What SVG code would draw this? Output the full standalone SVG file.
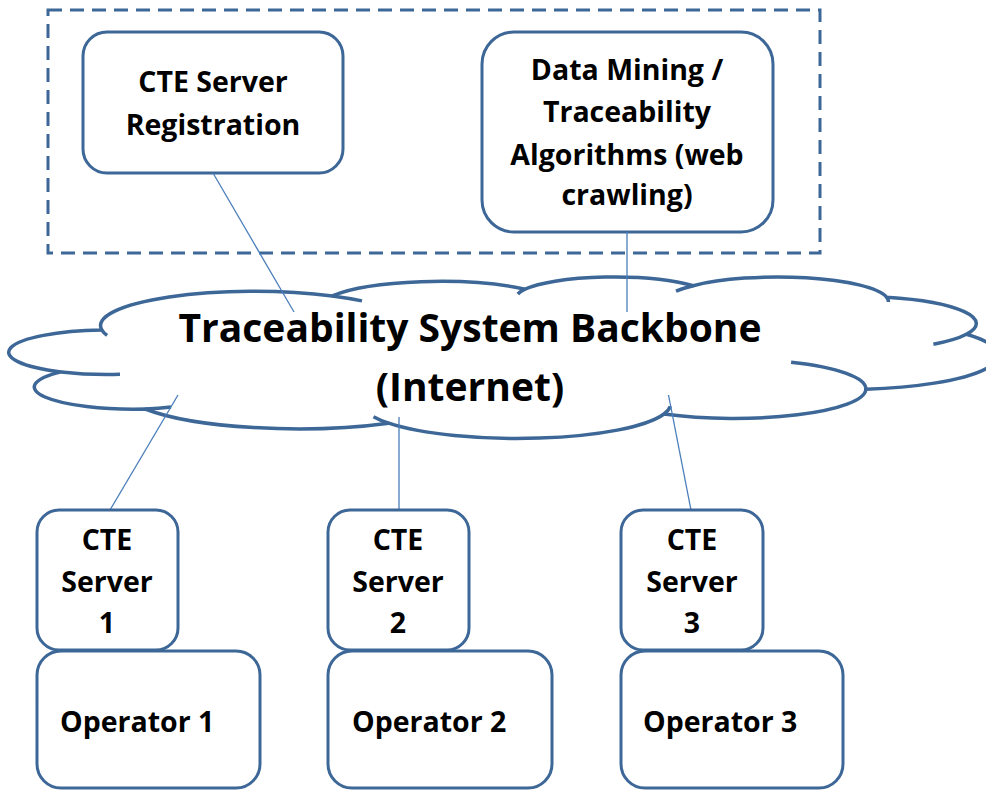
<svg xmlns="http://www.w3.org/2000/svg" width="986" height="790" viewBox="0 0 986 790">
<style>
.box{fill:#ffffff;stroke:#3D6797;stroke-width:3}
.cloud{fill:#ffffff;stroke:#3D6797;stroke-width:3.5;stroke-linejoin:round}
.tail{fill:none;stroke:#3D6797;stroke-width:3.5;stroke-linecap:butt}
.dash{fill:none;stroke:#3D6797;stroke-width:3;stroke-dasharray:14 8}
.conn{fill:none;stroke:#4A7EBB;stroke-width:1.3}
text{font-family:"Open Sans",Lato,"Liberation Sans",sans-serif;font-weight:bold;fill:#000000}
.t28{font-size:28.5px;text-anchor:middle}
.op{font-size:28.5px;text-anchor:start}
.title{font-size:39px;text-anchor:middle}
</style>
<rect width="986" height="790" fill="#ffffff"/>
<g id="group-box">
<rect class="dash" x="48" y="10" width="772" height="243"/>
</g>
<g id="registration">
<rect class="box" x="83" y="32" width="260" height="141" rx="24"/>
<text class="t28" x="213" y="92">CTE Server</text>
<text class="t28" x="213" y="135">Registration</text>
</g>
<g id="datamining">
<rect class="box" x="482" y="32" width="291" height="200" rx="32"/>
<text class="t28" x="627" y="80">Data Mining /</text>
<text class="t28" x="627" y="122">Traceability</text>
<text class="t28" x="627" y="165">Algorithms (web</text>
<text class="t28" x="627" y="205">crawling)</text>
</g>
<g id="backbone">
<path class="cloud" d="M 101.9 330.1 A 153.97 34.36 0 0 1 332.3 295.9 A 121.59 27.17 0 0 1 525.0 289.2 A 99.52 22.23 0 0 1 693.2 285.7 A 110.74 24.66 0 0 1 886.6 297.2 A 121.59 27.19 0 0 1 966.4 334.2 A 154.47 34.47 0 0 1 865.8 389.3 A 131.90 29.41 0 0 1 664.0 414.0 A 153.95 34.45 0 0 1 388.7 423.2 A 176.02 39.42 0 0 1 145.3 409.0 A 99.41 22.13 0 0 1 61.1 371.9 A 99.07 22.23 0 0 1 101.9 330.1 Z"/>
<path class="tail" d="M 120.0 374.3 A 99.07 22.23 0 0 1 61.1 371.9 M 171.0 406.9 A 99.41 22.13 0 0 1 145.3 409.0 M 388.7 423.2 A 153.95 34.45 0 0 1 373.5 416.7 M 670.3 406.3 A 153.95 34.45 0 0 1 664.0 414.0 M 791.1 362.2 A 131.90 29.41 0 0 1 865.8 389.3 M 966.4 334.2 A 121.59 27.19 0 0 1 933.4 344.2 M 886.6 297.2 A 110.74 24.66 0 0 1 888.4 302.0 M 676.0 291.2 A 110.74 24.66 0 0 1 693.2 285.7 M 517.8 294.0 A 99.52 22.23 0 0 1 525.0 289.2 M 332.3 295.9 A 153.97 34.36 0 0 1 362.0 300.9 M 107.1 335.4 A 153.97 34.36 0 0 1 101.9 330.1"/>
</g>
<g id="connectors">
<line class="conn" x1="213" y1="173" x2="294" y2="312"/>
<line class="conn" x1="627" y1="232" x2="627" y2="312"/>
<line class="conn" x1="110" y1="510" x2="178" y2="395"/>
<line class="conn" x1="399" y1="510" x2="399" y2="417"/>
<line class="conn" x1="691" y1="510" x2="668.5" y2="395"/>
</g>
<g id="backbone-label">
<text class="title" x="470" y="342">Traceability System Backbone</text>
<text class="title" x="470" y="401">(Internet)</text>
</g>
<g id="operator1">
<rect class="box" x="37" y="651" width="223" height="137" rx="24"/>
<text class="op" x="60" y="732">Operator 1</text>
</g>
<g id="server1">
<rect class="box" x="37" y="510" width="141" height="140" rx="22"/>
<text class="t28" x="107" y="550">CTE</text>
<text class="t28" x="107" y="592">Server</text>
<text class="t28" x="107" y="633">1</text>
</g>
<g id="operator2">
<rect class="box" x="328" y="651" width="224" height="137" rx="24"/>
<text class="op" x="352" y="732">Operator 2</text>
</g>
<g id="server2">
<rect class="box" x="328" y="510" width="141" height="140" rx="22"/>
<text class="t28" x="398" y="550">CTE</text>
<text class="t28" x="398" y="592">Server</text>
<text class="t28" x="398" y="633">2</text>
</g>
<g id="operator3">
<rect class="box" x="621" y="651" width="222" height="137" rx="24"/>
<text class="op" x="643" y="732">Operator 3</text>
</g>
<g id="server3">
<rect class="box" x="621" y="510" width="142" height="140" rx="22"/>
<text class="t28" x="692" y="550">CTE</text>
<text class="t28" x="692" y="592">Server</text>
<text class="t28" x="692" y="633">3</text>
</g>
</svg>
